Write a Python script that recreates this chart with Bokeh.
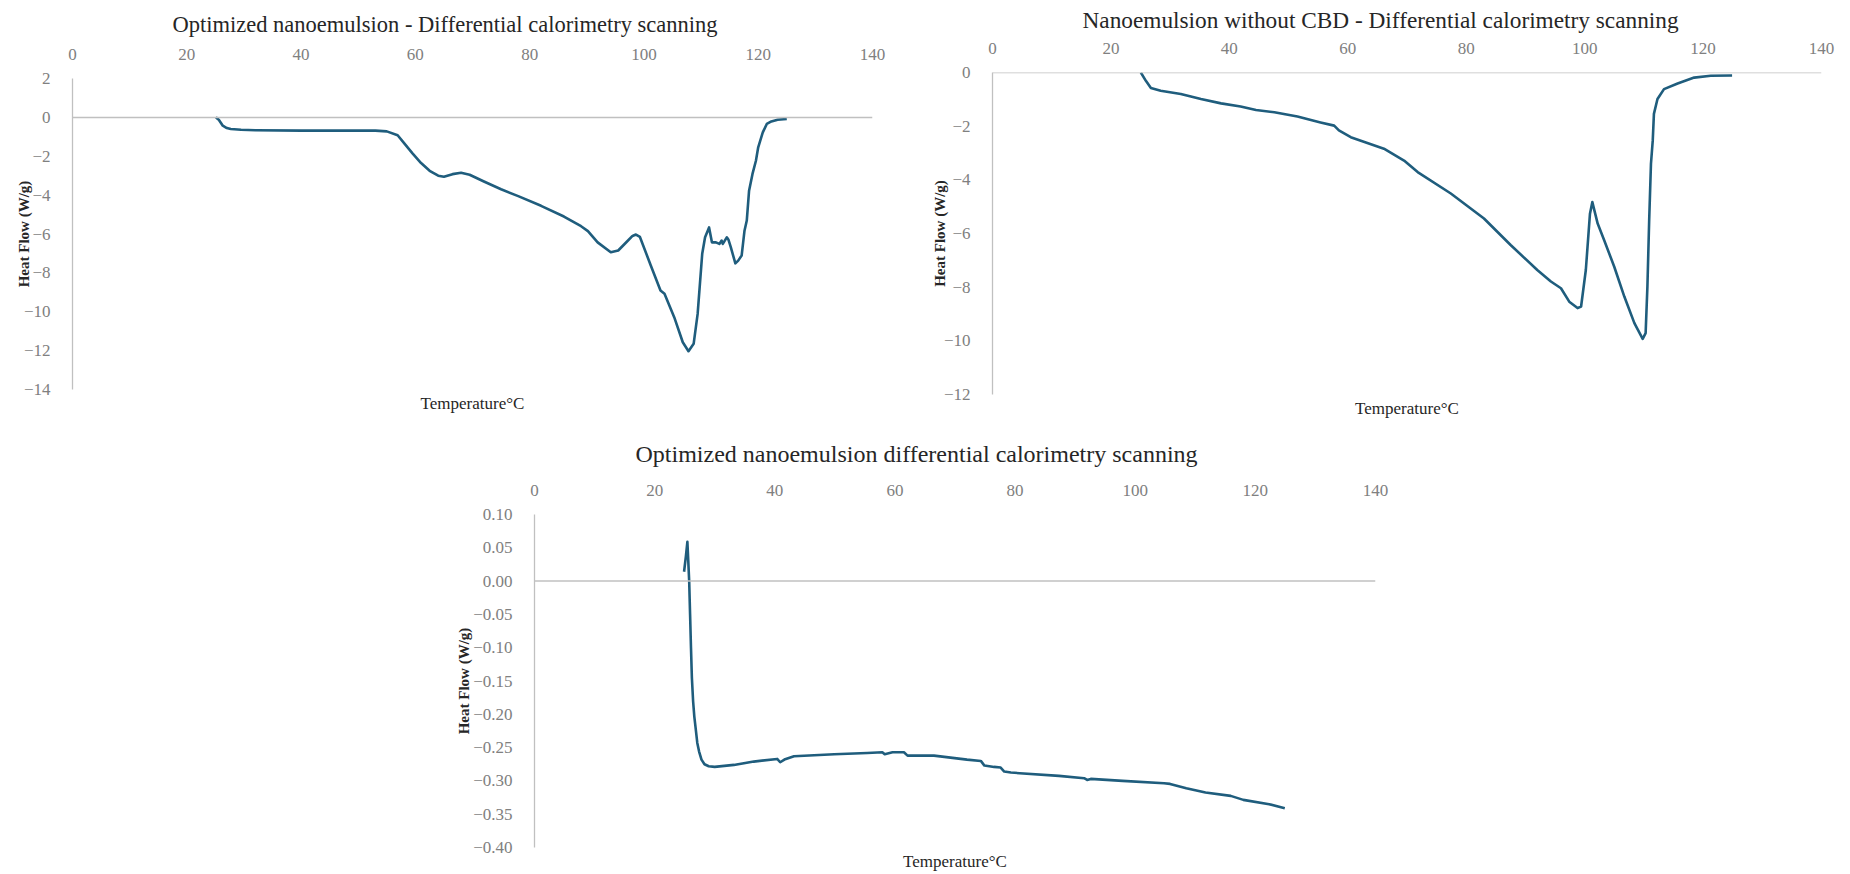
from bokeh.plotting import figure
from bokeh.models import LinearAxis, FixedTicker, Span, Spacer, CustomJSTickFormatter, Range1d
from bokeh.layouts import column, row
from bokeh.embed import file_html
from bokeh.resources import INLINE

# ---------------- data ----------------
x_ticks = [0, 20, 40, 60, 80, 100, 120, 140]
x_tick_labels = ["0", "20", "40", "60", "80", "100", "120", "140"]

# Chart 1: Optimized nanoemulsion - DSC
temp_opt = [25.1, 25.6, 26.3, 27.0, 27.7, 29.5, 32.0, 40.0, 48.0, 53.0, 55.0, 56.9, 58.1, 59.5, 61.0,
            62.5, 64.0, 65.0, 66.5, 68.0, 69.5, 72.0, 75.0, 78.0, 82.0, 86.0, 89.0, 90.2, 91.9, 94.2,
            95.5, 97.0, 98.0, 98.6, 99.3, 101.2, 102.9, 103.6, 105.3, 106.8, 107.8, 108.7, 109.4, 110.2,
            110.7, 111.4, 111.9, 112.6, 113.2, 113.6, 113.8, 114.5, 114.8, 115.2, 116.0, 116.5, 117.1,
            117.6, 118.0, 118.4, 119.0, 119.6, 120.0, 120.8, 121.5, 122.3, 123.4, 125.0]
heat_opt = [0.0, -0.12, -0.43, -0.55, -0.60, -0.64, -0.66, -0.68, -0.68, -0.68, -0.72, -0.92, -1.35, -1.85, -2.35,
            -2.75, -3.0, -3.05, -2.92, -2.85, -2.95, -3.3, -3.7, -4.05, -4.55, -5.1, -5.6, -5.85, -6.43, -6.94,
            -6.85, -6.4, -6.1, -6.03, -6.15, -7.62, -8.91, -9.08, -10.28, -11.57, -12.03, -11.65, -10.11, -7.02,
            -6.17, -5.66, -6.43, -6.43, -6.51, -6.34, -6.51, -6.17, -6.3, -6.68, -7.51, -7.37, -7.11,
            -5.83, -5.31, -3.77, -2.91, -2.23, -1.54, -0.77, -0.34, -0.21, -0.12, -0.08]
y_ticks_opt = [2, 0, -2, -4, -6, -8, -10, -12, -14]
y_labels_opt = ["2", "0", "\u22122", "\u22124", "\u22126", "\u22128", "\u221210", "\u221212", "\u221214"]

# Chart 2: Nanoemulsion without CBD - DSC
temp_nocbd = [25.05, 25.9, 26.75, 28.4, 31.8, 35.2, 38.6, 41.9, 44.5, 47.6, 51.5, 55.4, 57.7, 58.5, 60.5,
              66.1, 69.5, 71.8, 77.4, 83.0, 87.5, 92.0, 94.3, 96.0, 97.4, 98.8, 99.4, 100.2, 100.9, 101.3,
              102.2, 103.3, 105.0, 106.7, 108.4, 109.8, 110.3, 110.6, 110.9, 111.2, 111.5, 111.7, 112.3,
              113.4, 115.7, 118.5, 121.3, 124.9]
heat_nocbd = [0.0, -0.31, -0.58, -0.68, -0.80, -0.99, -1.15, -1.27, -1.40, -1.48, -1.64, -1.86, -1.98, -2.16, -2.41,
              -2.84, -3.28, -3.71, -4.51, -5.44, -6.43, -7.36, -7.79, -8.04, -8.54, -8.78, -8.72, -7.36, -5.26, -4.83,
              -5.63, -6.25, -7.24, -8.35, -9.34, -9.93, -9.71, -7.98, -5.5, -3.40, -2.54, -1.54, -0.99,
              -0.62, -0.41, -0.19, -0.12, -0.11]
y_ticks_nocbd = [0, -2, -4, -6, -8, -10, -12]
y_labels_nocbd = ["0", "\u22122", "\u22124", "\u22126", "\u22128", "\u221210", "\u221212"]

# Chart 3: Optimized nanoemulsion differential calorimetry scanning
temp_opt2 = [24.9, 25.2, 25.45, 25.6, 25.75, 25.9, 26.05, 26.2, 26.4, 26.6, 26.8, 27.1, 27.4, 27.8, 28.3,
             29.0, 30.0, 33.2, 36.5, 40.4, 40.9, 41.6, 43.2, 49.9, 55.4, 57.9, 58.3, 59.6, 61.5, 62.1,
             66.5, 72.0, 74.3, 74.9, 76.5, 77.6, 78.2, 79.3, 87.3, 91.5, 92.0, 92.6, 97.9, 104.8, 105.8,
             108.5, 111.7, 115.9, 118.0, 122.3, 124.9]
heat_opt2 = [0.014, 0.037, 0.059, 0.03, 0.0, -0.05, -0.10, -0.145, -0.18, -0.203, -0.219, -0.243, -0.256, -0.268, -0.275,
             -0.278, -0.279, -0.276, -0.271, -0.267, -0.272, -0.268, -0.263, -0.260, -0.258, -0.257, -0.260, -0.257, -0.257, -0.262,
             -0.262, -0.268, -0.270, -0.277, -0.279, -0.280, -0.286, -0.2875, -0.2925, -0.296, -0.2985, -0.297, -0.300, -0.3035, -0.3045,
             -0.311, -0.3175, -0.3225, -0.3285, -0.335, -0.341]
y_ticks_opt2 = [0.10, 0.05, 0.00, -0.05, -0.10, -0.15, -0.20, -0.25, -0.30, -0.35, -0.40]
y_labels_opt2 = ["0.10", "0.05", "0.00", "\u22120.05", "\u22120.10", "\u22120.15", "\u22120.20", "\u22120.25",
                 "\u22120.30", "\u22120.35", "\u22120.40"]

titles = ["Optimized nanoemulsion - Differential calorimetry scanning",
          "Nanoemulsion without CBD - Differential calorimetry scanning",
          "Optimized  nanoemulsion differential calorimetry scanning"]
x_title = "Temperature\u00b0C"
y_title = "Heat Flow (W/g)"

# ---------------- style ----------------
FONT = "Liberation Serif"
LINE = "#1f5d7d"
AXC = "#c0c0c0"
TICKC = "#808080"
TXT = "#262626"

JS = "const i = tv.findIndex(t => Math.abs(t - tick) < 1e-9); return i >= 0 ? tl[i] : '';"


def fmt(tvals, tlabels):
    return CustomJSTickFormatter(args=dict(tv=list(tvals), tl=list(tlabels)), code=JS)


def make(title, xs, ys, yticks, ylabels, width, height, bl, br, bt, bb,
         t_offset, t_standoff, t_valign, t_size, ylab_standoff):
    p = figure(width=width, height=height, x_range=Range1d(0, 140),
               y_range=Range1d(min(yticks), max(yticks)), x_axis_location="above",
               output_backend="svg", toolbar_location=None,
               min_border_left=bl, min_border_right=br, min_border_top=bt, min_border_bottom=bb)
    p.xgrid.visible = False
    p.ygrid.visible = False
    p.outline_line_color = None
    p.background_fill_color = "white"
    p.border_fill_color = "white"

    xa = p.xaxis[0]
    xa.ticker = FixedTicker(ticks=x_ticks)
    xa.formatter = fmt(x_ticks, x_tick_labels)
    xa.axis_line_color = None
    xa.major_tick_line_color = None
    xa.minor_tick_line_color = None
    xa.major_label_text_font = FONT
    xa.major_label_text_font_size = "17px"
    xa.major_label_text_color = TICKC
    xa.major_label_standoff = 13

    ya = p.yaxis[0]
    ya.ticker = FixedTicker(ticks=yticks)
    ya.formatter = fmt(yticks, ylabels)
    ya.axis_line_color = AXC
    ya.axis_line_width = 1.3
    ya.major_tick_line_color = None
    ya.minor_tick_line_color = None
    ya.major_label_text_font = FONT
    ya.major_label_text_font_size = "17px"
    ya.major_label_text_color = TICKC
    ya.major_label_standoff = 16
    ya.axis_label = y_title
    ya.axis_label_text_font = FONT
    ya.axis_label_text_font_style = "bold"
    ya.axis_label_text_font_size = "15px"
    ya.axis_label_text_color = TXT
    ya.axis_label_standoff = ylab_standoff

    bx = LinearAxis(ticker=FixedTicker(ticks=[]), axis_label=x_title)
    bx.axis_line_color = None
    bx.major_tick_line_color = None
    bx.minor_tick_line_color = None
    bx.major_label_standoff = 0
    bx.axis_label_standoff = 4
    bx.axis_label_text_font = FONT
    bx.axis_label_text_font_style = "normal"
    bx.axis_label_text_font_size = "17px"
    bx.axis_label_text_color = TXT
    p.add_layout(bx, "below")

    p.add_layout(Span(location=0, dimension="width", line_color=AXC, line_width=1.5))

    p.line(xs, ys, line_color=LINE, line_width=2.6, line_join="round")

    p.title.text = title
    p.title.text_font = FONT
    p.title.text_font_size = t_size
    p.title.text_font_style = "normal"
    p.title.text_color = TXT
    p.title.align = "left"
    p.title.vertical_align = t_valign
    p.title.offset = t_offset
    p.title.standoff = t_standoff
    return p


p1 = make(titles[0], temp_opt, heat_opt, y_ticks_opt, y_labels_opt,
          900, 420, 72, 28, 78, 31, 100, 16, "middle", "22.5px", -11)
p2 = make(titles[1], temp_nocbd, heat_nocbd, y_ticks_nocbd, y_labels_nocbd,
          950, 420, 92, 29, 72, 25, 90, 10, "top", "23.3px", -7)
p3 = make(titles[2], temp_opt2, heat_opt2, y_ticks_opt2, y_labels_opt2,
          1070, 454, 154, 75, 94, 27, 101, 27, "middle", "24px", -2)

lay = column(row(column(p1), column(p2)), row(Spacer(width=380, height=454), p3))

open("out.html", "w").write(file_html(lay, INLINE))
